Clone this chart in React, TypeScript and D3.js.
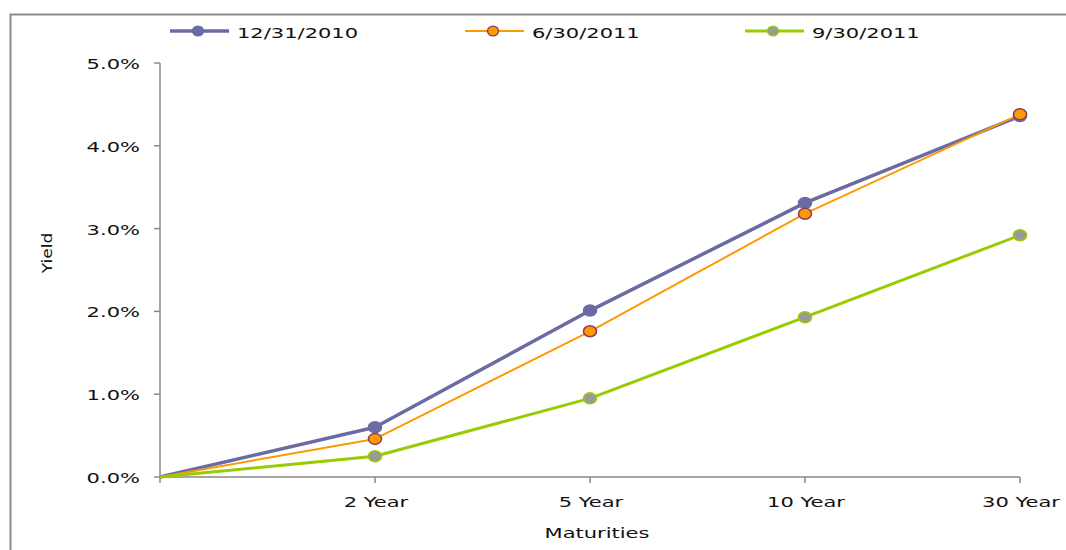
import React from "react";
import * as d3 from "d3";

const categories = ["", "2 Year", "5 Year", "10 Year", "30 Year"];
const seriesNames = ["12/31/2010", "6/30/2011", "9/30/2011"];
const dec2010 = [0, 0.6, 2.01, 3.31, 4.36];
const jun2011 = [0, 0.46, 1.76, 3.18, 4.38];
const sep2011 = [0, 0.25, 0.95, 1.93, 2.92];
const yTicks = [0, 1, 2, 3, 4, 5];

const styles = [
  { line: "#6B6BA3", width: 3.5, fill: "#6B6BA3", stroke: "#6B6BA3" },
  { line: "#FF9900", width: 2, fill: "#FF9900", stroke: "#8E3A5E" },
  { line: "#99CC00", width: 3, fill: "#999999", stroke: "#99CC00" },
];

const FONT = "DejaVu Sans, Verdana, sans-serif";
const SX = 1.45;

function T({ x, y, anchor = "start", size = 14.5, rot = 0, sx = SX, children }: any) {
  return (
    <text
      transform={`translate(${x},${y}) rotate(${rot}) scale(${sx},1)`}
      textAnchor={anchor}
      fontFamily={FONT}
      fontSize={size}
      fill="#111"
    >
      {children}
    </text>
  );
}

export default function App() {
  const W = 1066, H = 550;
  const x = d3.scalePoint<string>().domain(categories).range([160, 1020]);
  const y = d3.scaleLinear().domain([0, 5]).range([477, 63]);
  const all = [dec2010, jun2011, sep2011];
  const line = d3
    .line<number>()
    .x((_, i) => x(categories[i]) as number)
    .y((d) => y(d));
  const axisColor = "#888888";
  const legendX = [170, 465, 745];
  return (
    <svg width={W} height={H} style={{ position: "absolute", left: 0, top: 0 }}>
      <rect x={0} y={0} width={W} height={H} fill="#fff" />
      <path d={`M10.5,${H + 5} V14.5 H${W + 5}`} fill="none" stroke="#8c8c8c" strokeWidth={2} />
      {/* legend */}
      {seriesNames.map((n, i) => (
        <g key={n}>
          <line x1={legendX[i]} x2={legendX[i] + 59} y1={31} y2={31} stroke={styles[i].line} strokeWidth={styles[i].width} />
          <ellipse cx={legendX[i] + 28} cy={31} rx={5.5} ry={4.8} fill={styles[i].fill} stroke={styles[i].stroke} strokeWidth={1.3} />
          <T x={legendX[i] + 67} y={38}>{n}</T>
        </g>
      ))}
      {/* y axis */}
      <line x1={160} x2={160} y1={y(5)} y2={y(0)} stroke={axisColor} strokeWidth={1.5} />
      {yTicks.map((t) => (
        <g key={t}>
          <line x1={154} x2={160} y1={y(t)} y2={y(t)} stroke={axisColor} strokeWidth={1.5} />
          <T x={140} y={y(t) + 6} anchor="end">{t.toFixed(1)}%</T>
        </g>
      ))}
      {/* x axis */}
      <line x1={160} x2={1020} y1={477} y2={477} stroke={axisColor} strokeWidth={1.5} />
      {categories.map((c) => (
        <g key={c}>
          <line x1={x(c)} x2={x(c)} y1={477} y2={483} stroke={axisColor} strokeWidth={1.5} />
          <T x={(x(c) as number) + 1} y={507} anchor="middle">{c}</T>
        </g>
      ))}
      <T x={597} y={538} anchor="middle">Maturities</T>
      <T x={52} y={253} anchor="middle" rot={-90} sx={1.17}>Yield</T>
      {/* lines */}
      {all.map((s, i) => (
        <path key={i} d={line(s) || ""} fill="none" stroke={styles[i].line} strokeWidth={styles[i].width} strokeLinejoin="round" />
      ))}
      {all.map((s, i) =>
        s.map((v, j) =>
          j === 0 ? null : (
            <ellipse key={`${i}-${j}`} cx={x(categories[j])} cy={y(v)} rx={6.5} ry={5.5} fill={styles[i].fill} stroke={styles[i].stroke} strokeWidth={1.5} />
          )
        )
      )}
    </svg>
  );
}
